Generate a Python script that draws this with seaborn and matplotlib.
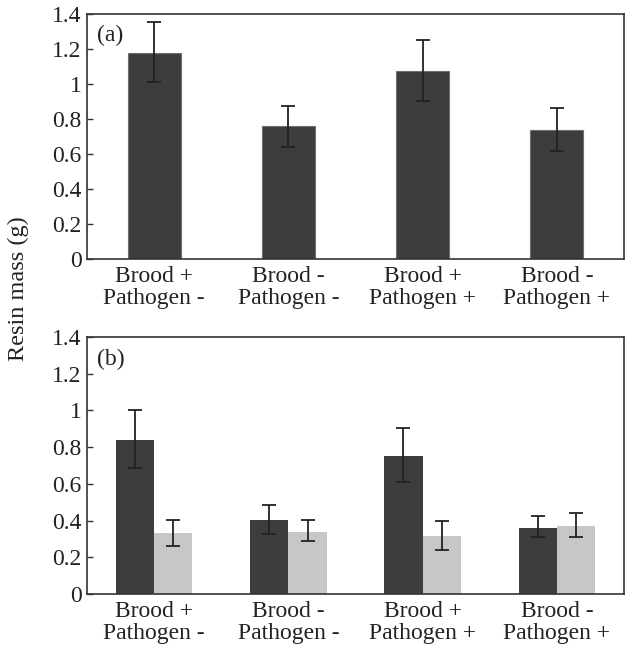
import matplotlib
matplotlib.use("Agg")
import matplotlib.pyplot as plt
import seaborn as sns
import pandas as pd
import numpy as np

categories = ["Brood +\nPathogen -", "Brood -\nPathogen -", "Brood +\nPathogen +", "Brood -\nPathogen +"]

# Panel (a)
a_mean = [1.18, 0.76, 1.075, 0.74]
a_low = [1.01, 0.64, 0.905, 0.62]
a_high = [1.355, 0.875, 1.25, 0.865]

# Panel (b)
groups = ["dark", "light"]
b_dark_mean = [0.838, 0.403, 0.75, 0.36]
b_dark_low = [0.688, 0.325, 0.61, 0.31]
b_dark_high = [1.0, 0.487, 0.905, 0.425]
b_light_mean = [0.33, 0.34, 0.315, 0.368]
b_light_low = [0.263, 0.288, 0.24, 0.31]
b_light_high = [0.405, 0.405, 0.398, 0.442]

yticks = [0, 0.2, 0.4, 0.6, 0.8, 1, 1.2, 1.4]
yticklabels = ["0", "0.2", "0.4", "0.6", "0.8", "1", "1.2", "1.4"]

DARK = "#3d3d3d"
LIGHT = "#c6c7c8"
FS = 17

sns.set_theme(style="white")
plt.rcParams["font.family"] = ["Liberation Serif", "DejaVu Serif"]
plt.rcParams["font.size"] = FS

fig = plt.figure(figsize=(6.28, 6.5), dpi=100)
L, R = 87 / 628, 624 / 628
ax1 = fig.add_axes([L, 1 - 259 / 650, R - L, (259 - 14) / 650])
ax2 = fig.add_axes([L, 1 - 594 / 650, R - L, (594 - 337) / 650])

dfa = pd.DataFrame({"cat": categories, "val": a_mean})
sns.barplot(data=dfa, x="cat", y="val", order=categories, color=DARK, saturation=1,
            width=0.395, errorbar=None, edgecolor="#707070", linewidth=0.8, ax=ax1)
xs = [p.get_x() + p.get_width() / 2 for p in ax1.patches]
ax1.errorbar(xs, a_mean,
             yerr=[np.array(a_mean) - np.array(a_low), np.array(a_high) - np.array(a_mean)],
             fmt="none", ecolor="#222222", elinewidth=1.3, capsize=5, capthick=1.3)

dfb = pd.DataFrame({
    "cat": categories * 2,
    "grp": ["dark"] * 4 + ["light"] * 4,
    "val": b_dark_mean + b_light_mean,
})
sns.barplot(data=dfb, x="cat", y="val", hue="grp", order=categories, hue_order=groups,
            palette={"dark": DARK, "light": LIGHT}, saturation=1, width=0.57,
            errorbar=None, edgecolor="none", linewidth=0, legend=False, ax=ax2)
bars = [p for p in ax2.patches if p.get_width() > 0]
xs_b = [p.get_x() + p.get_width() / 2 for p in bars]
means_b = b_dark_mean + b_light_mean
lows_b = b_dark_low + b_light_low
highs_b = b_dark_high + b_light_high
ax2.errorbar(xs_b, means_b,
             yerr=[np.array(means_b) - np.array(lows_b), np.array(highs_b) - np.array(means_b)],
             fmt="none", ecolor="#222222", elinewidth=1.3, capsize=5, capthick=1.3)

for ax, lab in [(ax1, "(a)"), (ax2, "(b)")]:
    ax.set_ylim(0, 1.4)
    ax.set_xlim(-0.5, 3.5)
    ax.set_yticks(yticks)
    ax.set_yticklabels(yticklabels)
    ax.set_xlabel("")
    ax.set_ylabel("")
    ax.tick_params(axis="y", direction="in", length=4, width=1, color="#333333",
                   left=True, pad=4, labelsize=FS, labelcolor="#222222")
    ax.tick_params(axis="x", length=0, pad=5, labelsize=FS, labelcolor="#222222")
    for t in ax.get_xticklabels():
        t.set_linespacing(1.05)
    for s in ax.spines.values():
        s.set_color("#333333")
        s.set_linewidth(1.2)
        s.set_visible(True)
    ax.text(0.018, 0.955, lab, transform=ax.transAxes, ha="left", va="top",
            fontsize=FS, color="#222222")

fig.text(18 / 628, 1 - 289 / 650, "Resin mass (g)", rotation=90, ha="center", va="center",
         fontsize=FS + 0.5, color="#222222")

fig.savefig("out.png", dpi=100)
